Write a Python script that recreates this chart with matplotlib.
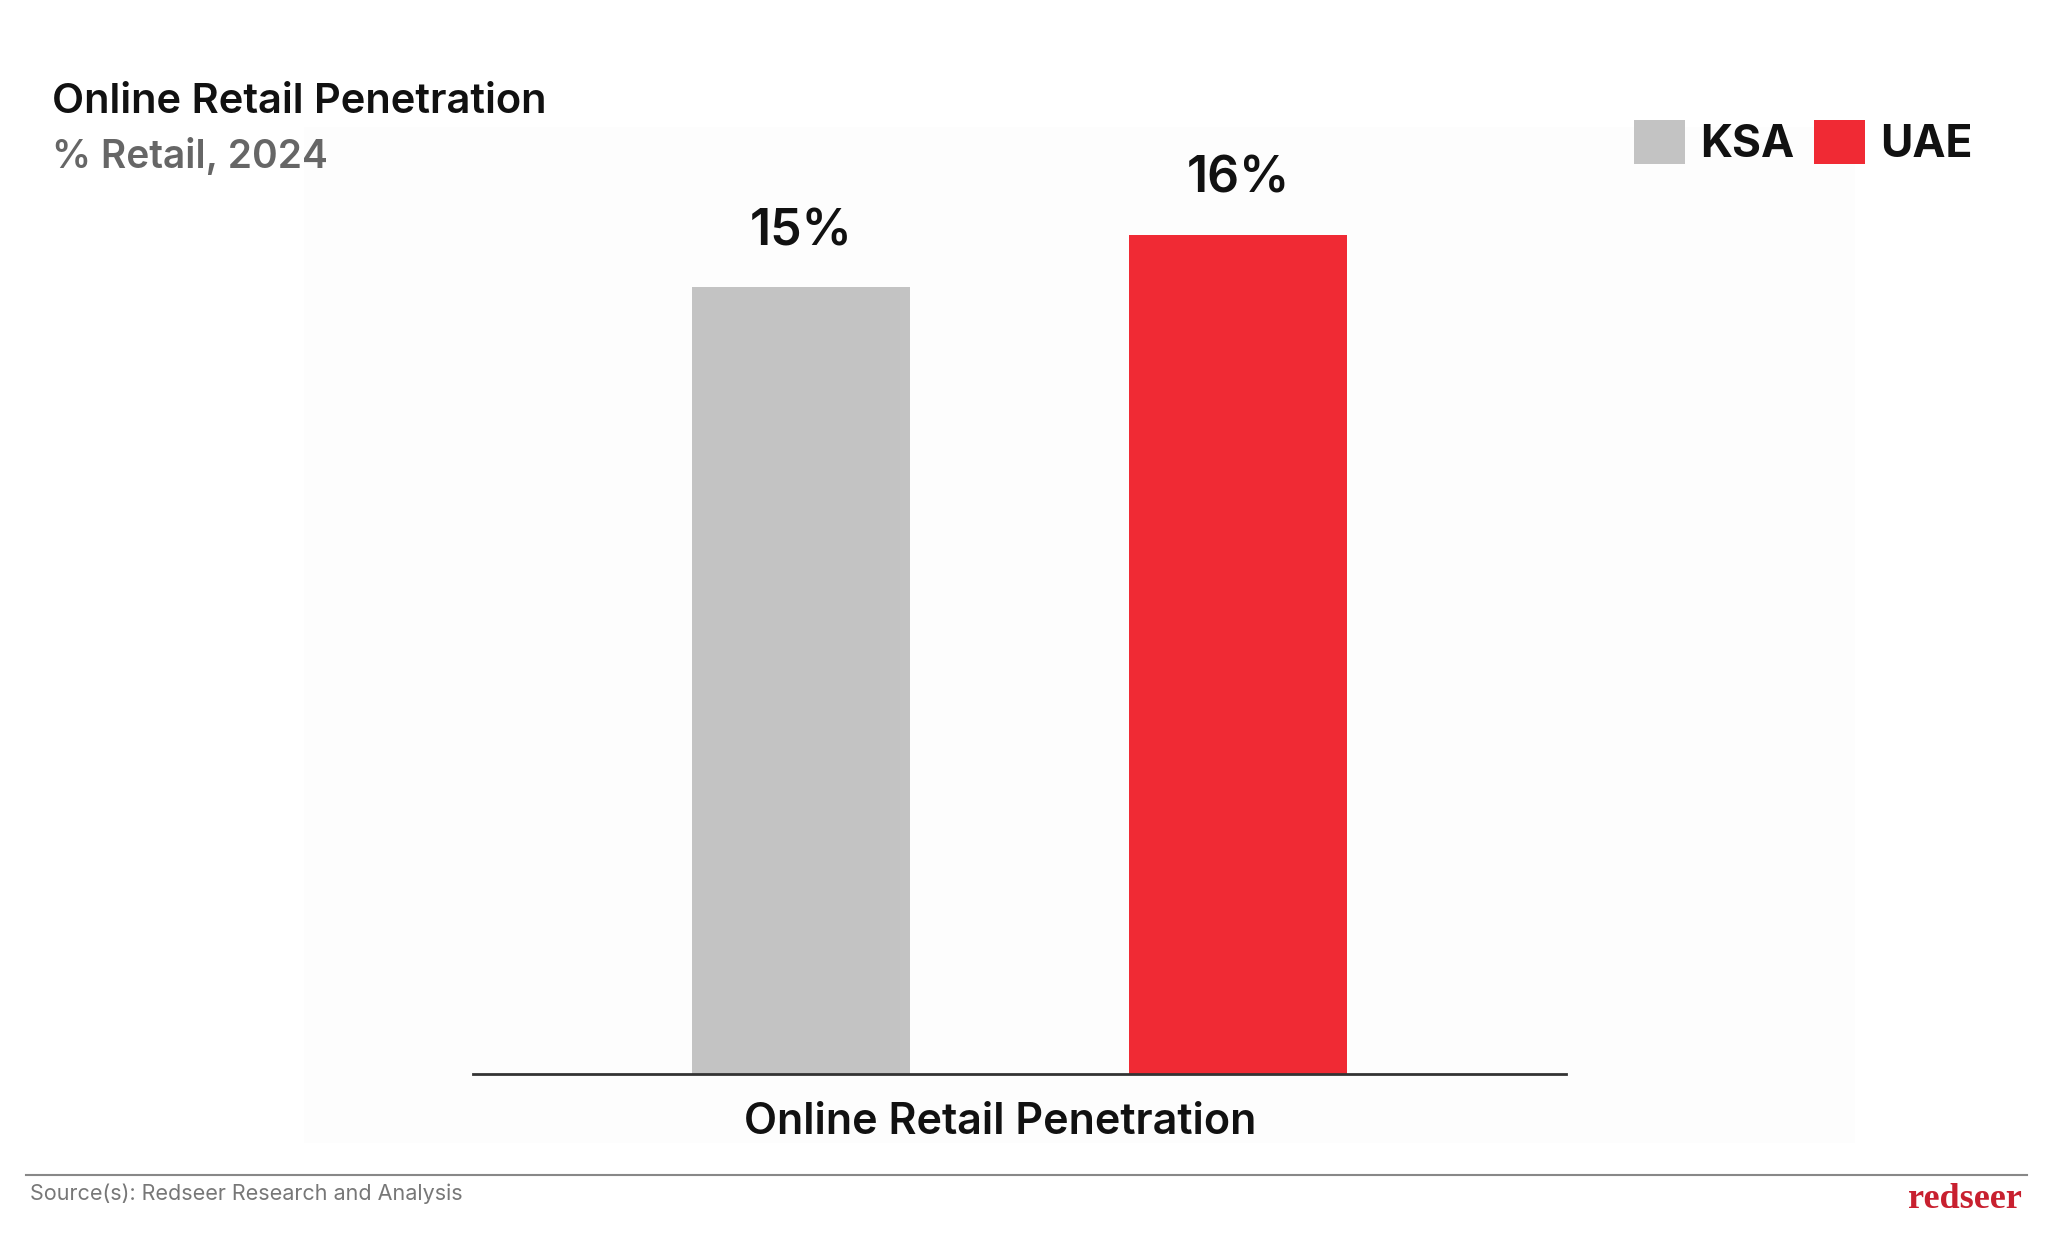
import matplotlib.pyplot as plt
from matplotlib.patches import Rectangle

countries = ["KSA", "UAE"]
penetration = [15, 16]
colors = ["#c3c3c3", "#f02a34"]
category = "Online Retail Penetration"

plt.rcParams['font.family'] = ['Inter', 'DejaVu Sans']

fig = plt.figure(figsize=(20.48, 12.43), dpi=100)
fig.patch.set_facecolor("white")

# faint panel behind the chart
fig.patches.append(Rectangle((304 / 2048, 1 - 1143 / 1243), (1855 - 304) / 2048, (1143 - 127) / 1243,
                             transform=fig.transFigure, facecolor="#fdfdfd", edgecolor="none", zorder=-5))

ax = fig.add_axes([473 / 2048, 1 - 1074 / 1243, 1093 / 2048, 974 / 1243])
ax.patch.set_alpha(0)
ax.set_zorder(2)

xs = list(range(len(countries)))
bars = ax.bar(xs, penetration, width=0.5, color=colors, label=countries, zorder=2)
for x, v in zip(xs, penetration):
    ax.annotate(str(v) + "%", (x, v), xytext=(0, 40), textcoords="offset points",
                ha="center", va="center", fontsize=36, fontweight="semibold", color="#111111")

ax.set_xlim(-0.75, 1.75)
ax.set_ylim(0, 974 / 52.45)
for s in ["top", "right", "left"]:
    ax.spines[s].set_visible(False)
ax.spines["bottom"].set_color("#333333")
ax.spines["bottom"].set_linewidth(2)
ax.set_xticks([])
ax.set_yticks([])

fig.text(1000 / 2048, 1 - 1122 / 1243, category, ha="center", va="center",
         fontsize=31, fontweight="semibold", color="#111111")

# titles
fig.text(52 / 2048, 1 - 102 / 1243, "Online Retail Penetration", ha="left", va="center",
         fontsize=30, fontweight="semibold", color="#111111")
fig.text(52 / 2048, 1 - 157 / 1243, "% Retail, 2024", ha="left", va="center",
         fontsize=28, fontweight="semibold", color="#666666")

# legend
leg = ax.legend(handles=bars, labels=countries, loc="center left", ncol=2,
                bbox_to_anchor=(1612 / 2048, 1 - 143 / 1243), bbox_transform=fig.transFigure,
                frameon=False, fontsize=32, handlelength=1.15, handleheight=1.15,
                handletextpad=0.33, columnspacing=0.45, borderpad=0)
for t in leg.get_texts():
    t.set_fontweight("bold")
    t.set_color("#111111")

# footer
fig.add_artist(plt.Line2D([26 / 2048, 2027 / 2048], [1 - 1175 / 1243, 1 - 1175 / 1243],
                          transform=fig.transFigure, color="#888888", linewidth=1.5))
fig.text(30 / 2048, 1 - 1194 / 1243, "Source(s): Redseer Research and Analysis", ha="left", va="center",
         fontsize=15.5, color="#777777")
fig.text(2022 / 2048, 1 - 1199 / 1243, "redseer", ha="right", va="center",
         fontsize=26, fontweight="bold", family="Liberation Serif", color="#c8202f")

fig.savefig("out.png", dpi=100)
